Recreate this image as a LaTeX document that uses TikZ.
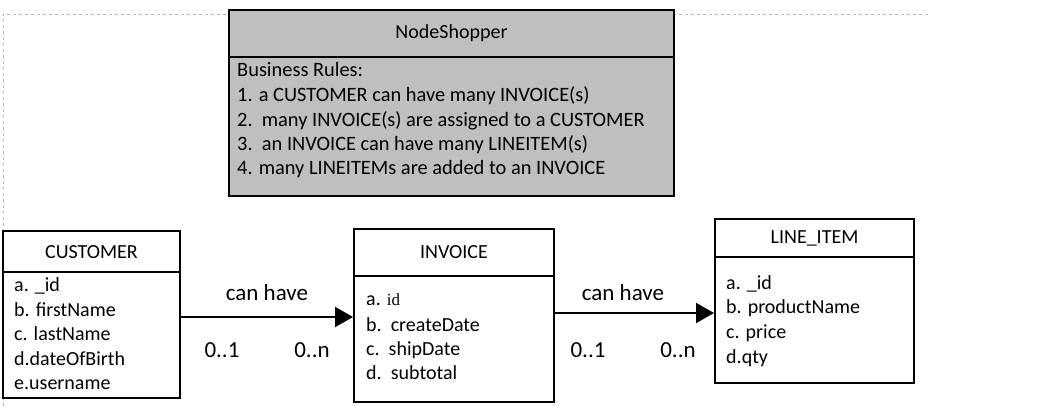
\documentclass[tikz,border=0pt]{standalone}
\usepackage{fontspec}
\setmainfont{Carlito}
\newfontfamily\serifid{Liberation Serif}
\usetikzlibrary{arrows.meta}
\begin{document}
\begin{tikzpicture}[x=1pt,y=-1pt,
  boxstyle/.style={draw=black,line width=2pt,inner sep=0pt},
  hdr/.style={draw=black,line width=1.6pt},
  attr/.style={anchor=base west,inner sep=0pt,font=\fontsize{20}{22}\selectfont},
  rule/.style={anchor=base west,inner sep=0pt,font=\fontsize{20.4}{22}\selectfont},
  ttl/.style={anchor=base,inner sep=0pt,font=\fontsize{20}{22}\selectfont},
  lbl/.style={anchor=base,inner sep=0pt,font=\fontsize{23}{25}\selectfont},
  arr/.style={line width=2pt,-{Triangle[length=18pt,width=20pt]}}]
\useasboundingbox (0,0) rectangle (1056,406);
% dashed frame
\draw[gray!60,dashed,line width=0.8pt] (3,406) -- (3,14) -- (928,14);
% NodeShopper box
\fill[gray!50] (229,10) rectangle (674,196);
\node[boxstyle,minimum width=445pt,minimum height=186pt] (ns) at (451.5,103) {};
\draw[hdr] (229,57) -- (674,57);
\node[ttl] (nst) at (451.5,39) {NodeShopper};
\node[rule] (br0) at (237,77) {Business Rules:};
\node[rule] (br1) at (237,102) {1. a CUSTOMER can have many INVOICE(s)};
\node[rule] (br2) at (237,127) {2.\ \ many INVOICE(s) are assigned to a CUSTOMER};
\node[rule] (br3) at (237,151) {3.\ \ an INVOICE can have many LINEITEM(s)};
\node[rule] (br4) at (237,175) {4. many LINEITEMs are added to an INVOICE};
% CUSTOMER
\node[boxstyle,fill=white,minimum width=177pt,minimum height=167pt] (cust) at (91.5,314.5) {};
\draw[hdr] (3,272) -- (180,272);
\node[ttl] (custt) at (91.5,258) {CUSTOMER};
\node[attr] (c1) at (14,291) {a. \_id};
\node[attr] (c2) at (14,316) {b. firstName};
\node[attr] (c3) at (14,340) {c. lastName};
\node[attr] (c4) at (14,365) {d.dateOfBirth};
\node[attr] (c5) at (14,389) {e.username};
% INVOICE
\node[boxstyle,fill=white,minimum width=200pt,minimum height=173pt] (inv) at (454,315.5) {};
\draw[hdr] (354,276) -- (554,276);
\node[ttl] (invt) at (454,258) {INVOICE};
\node[attr] (i1) at (366,305) {a. {\serifid\fontsize{17}{19}\selectfont id}};
\node[attr] (i2) at (366,331) {b.\ \ createDate};
\node[attr] (i3) at (366,355) {c.\ \ shipDate};
\node[attr] (i4) at (366,379) {d.\ \ subtotal};
% LINE_ITEM
\node[boxstyle,fill=white,minimum width=199pt,minimum height=164pt] (li) at (814.5,301) {};
\draw[hdr] (715,257) -- (914,257);
\node[ttl] (lit) at (814.5,243) {LINE\_ITEM};
\node[attr] (l1) at (726,289) {a. \_id};
\node[attr] (l2) at (726,313) {b. productName};
\node[attr] (l3) at (726,338) {c. price};
\node[attr] (l4) at (726,363) {d.qty};
% connectors
\coordinate (ya) at (0,317);
\coordinate (yb) at (0,313);
\draw[arr] (cust.east |- ya) -- (inv.west |- ya);
\draw[arr] (inv.east |- yb) -- (li.west |- yb);
\node[lbl] (ch1) at (267,300) {can have};
\node[lbl] (m11) at (222,357) {0..1};
\node[lbl] (m1n) at (312,357) {0..n};
\node[lbl] (ch2) at (623,300) {can have};
\node[lbl] (m21) at (588,357) {0..1};
\node[lbl] (m2n) at (678,357) {0..n};
\end{tikzpicture}
\end{document}
